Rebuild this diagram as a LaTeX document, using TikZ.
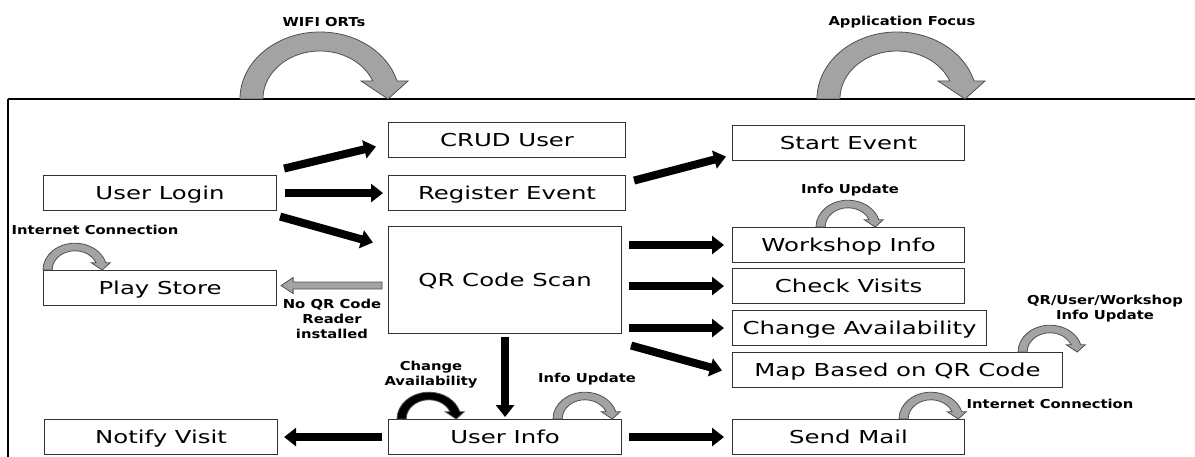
\documentclass[tikz,border=0pt]{standalone}
\usepackage{fontspec}
\newfontfamily\boxfont{DejaVu Sans}[FakeStretch=1.37]
\newfontfamily\tagfont{DejaVu Sans}[FakeStretch=1.2]
\usetikzlibrary{arrows.meta,calc}

\definecolor{arcgray}{HTML}{A3A3A3}
\definecolor{edgegray}{HTML}{505050}

\tikzset{
  box/.style={draw=black!80, line width=1.1pt, fill=white, inner sep=0pt,
    anchor=north west, minimum height=35pt,
    text height=17pt, text depth=4pt,
    font=\boxfont\fontsize{17.8}{20}\selectfont},
  tag/.style={inner sep=0pt, align=center,
    font=\tagfont\bfseries\fontsize{12.3}{15}\selectfont},
  flow/.style={line width=8pt, -{Triangle[length=12pt,width=18pt]}},
  grayarrow/.style={fill=arcgray, draw=edgegray, line width=0.8pt, line join=miter},
  frame/.style={line width=1.5pt}
}

% curved block arrow: #1 centre of the foot line, #2 scale, #3 fill colour
\newcommand{\bentarrow}[3]{%
  \begin{scope}[shift={#1}, scale=#2, yscale=-1]
    \draw[fill=#3, draw=edgegray, line width=0.8pt, line join=miter]
      (-80,0) arc[start angle=180, end angle=15.6, x radius=80, y radius=67]
      -- (88,18) -- (68,0) -- (41,18) -- (52.8,18)
      arc[start angle=22, end angle=180, x radius=57, y radius=48] -- cycle;
  \end{scope}}

\begin{document}
\begin{tikzpicture}[x=1pt,y=-1pt]
\useasboundingbox (0,0) rectangle (1195,457);

% outer frame (top and left edges)
\draw[frame] (8,99) -- (1195,99);
\draw[frame] (8,99) -- (8,457);

% curved arrows above the frame
\bentarrow{(320,99)}{1}{arcgray}
\bentarrow{(897,99)}{1}{arcgray}
\node[tag] (wifi) at (324,22) {WIFI ORTs};
\node[tag] (focus) at (902,22) {Application Focus};

% boxes
\node[box, minimum width=233pt] (ul)  at (43,175)  {User Login};
\node[box, minimum width=233pt] (ps)  at (43,270)  {Play Store};
\node[box, minimum width=233pt] (nv)  at (44,419)  {Notify Visit};
\node[box, minimum width=237pt] (crud) at (388,122) {CRUD User};
\node[box, minimum width=237pt] (reg) at (388,175) {Register Event};
\node[box, minimum width=233pt, minimum height=107pt] (qr) at (388,226) {QR Code Scan};
\node[box, minimum width=233pt] (ui)  at (388,419) {User Info};
\node[box, minimum width=232pt] (se)  at (732,125) {Start Event};
\node[box, minimum width=232pt] (wi)  at (732,227) {Workshop Info};
\node[box, minimum width=232pt] (cv)  at (732,268) {Check Visits};
\node[box, minimum width=254pt] (ca)  at (732,310) {Change Availability};
\node[box, minimum width=330pt] (map) at (732,352) {Map Based on QR Code};
\node[box, minimum width=232pt] (sm)  at (732,419) {Send Mail};

% flows out of User Login
\draw[flow] ($(ul.east)+(7,-24.5)$) -- ($(crud.west)+(-12,6.5)$);
\draw[flow] ($(ul.east)+(8,0)$) -- ($(reg.west)+(-5,0)$);
\draw[flow] ($(ul.east)+(3,23.5)$) -- ($(qr.west)+(-15,-37.5)$);

% Register Event to Start Event
\draw[flow] ($(reg.east)+(8,-12.5)$) -- ($(se.west)+(-6,13.5)$);

% flows out of QR Code Scan
\draw[flow] ($(qr.east |- wi.west)+(7,0)$) -- ($(wi.west)+(-8,0)$);
\draw[flow] ($(qr.east |- cv.west)+(7,0)$) -- ($(cv.west)+(-8,0)$);
\draw[flow] ($(qr.east |- ca.west)+(7,0)$) -- ($(ca.west)+(-8,0)$);
\draw[flow] ($(qr.east)+(9,65.5)$) -- ($(map.west)+(-10,0.5)$);
\draw[flow] ($(qr.south)+(0,3)$) -- ($(ui.north)+(0,-2)$);

% flows out of User Info
\draw[flow] ($(ui.west)+(-6,0)$) -- ($(nv.east)+(6,0)$);
\draw[flow] ($(ui.east)+(7,0)$) -- ($(sm.west)+(-8,0)$);

% QR Code Scan back to Play Store
\draw[grayarrow] ($(ps.east)+(4,-2.5)$) coordinate (gt) -- ++(12,-8) -- ++(0,4.5)
  -- ($(qr.west |- gt)+(-6,-3.5)$) -- ++(0,7) -- ($(gt)+(12,3.5)$) -- ++(0,4.5) -- cycle;
\node[tag] (noqr) at (332,319) {No QR Code\\Reader\\installed};

% small curved arrows with their labels
\bentarrow{(75,270)}{0.4}{arcgray}
\node[tag] (inet1) at (95,230) {Internet Connection};

\bentarrow{(848,227)}{0.4}{arcgray}
\node[tag] (upd1) at (850,190) {Info Update};

\bentarrow{(429,419)}{0.4}{black}
\node[tag] (chav) at (431,375) {Change\\Availability};

\bentarrow{(585,419)}{0.4}{arcgray}
\node[tag] (upd2) at (587,379) {Info Update};

\bentarrow{(1050,352)}{0.4}{arcgray}
\node[tag] (upd3) at (1105,309) {QR/User/Workshop\\Info Update};

\bentarrow{(931,419)}{0.4}{arcgray}
\node[tag] (inet2) at (1050,404) {Internet Connection};
\end{tikzpicture}
\end{document}
